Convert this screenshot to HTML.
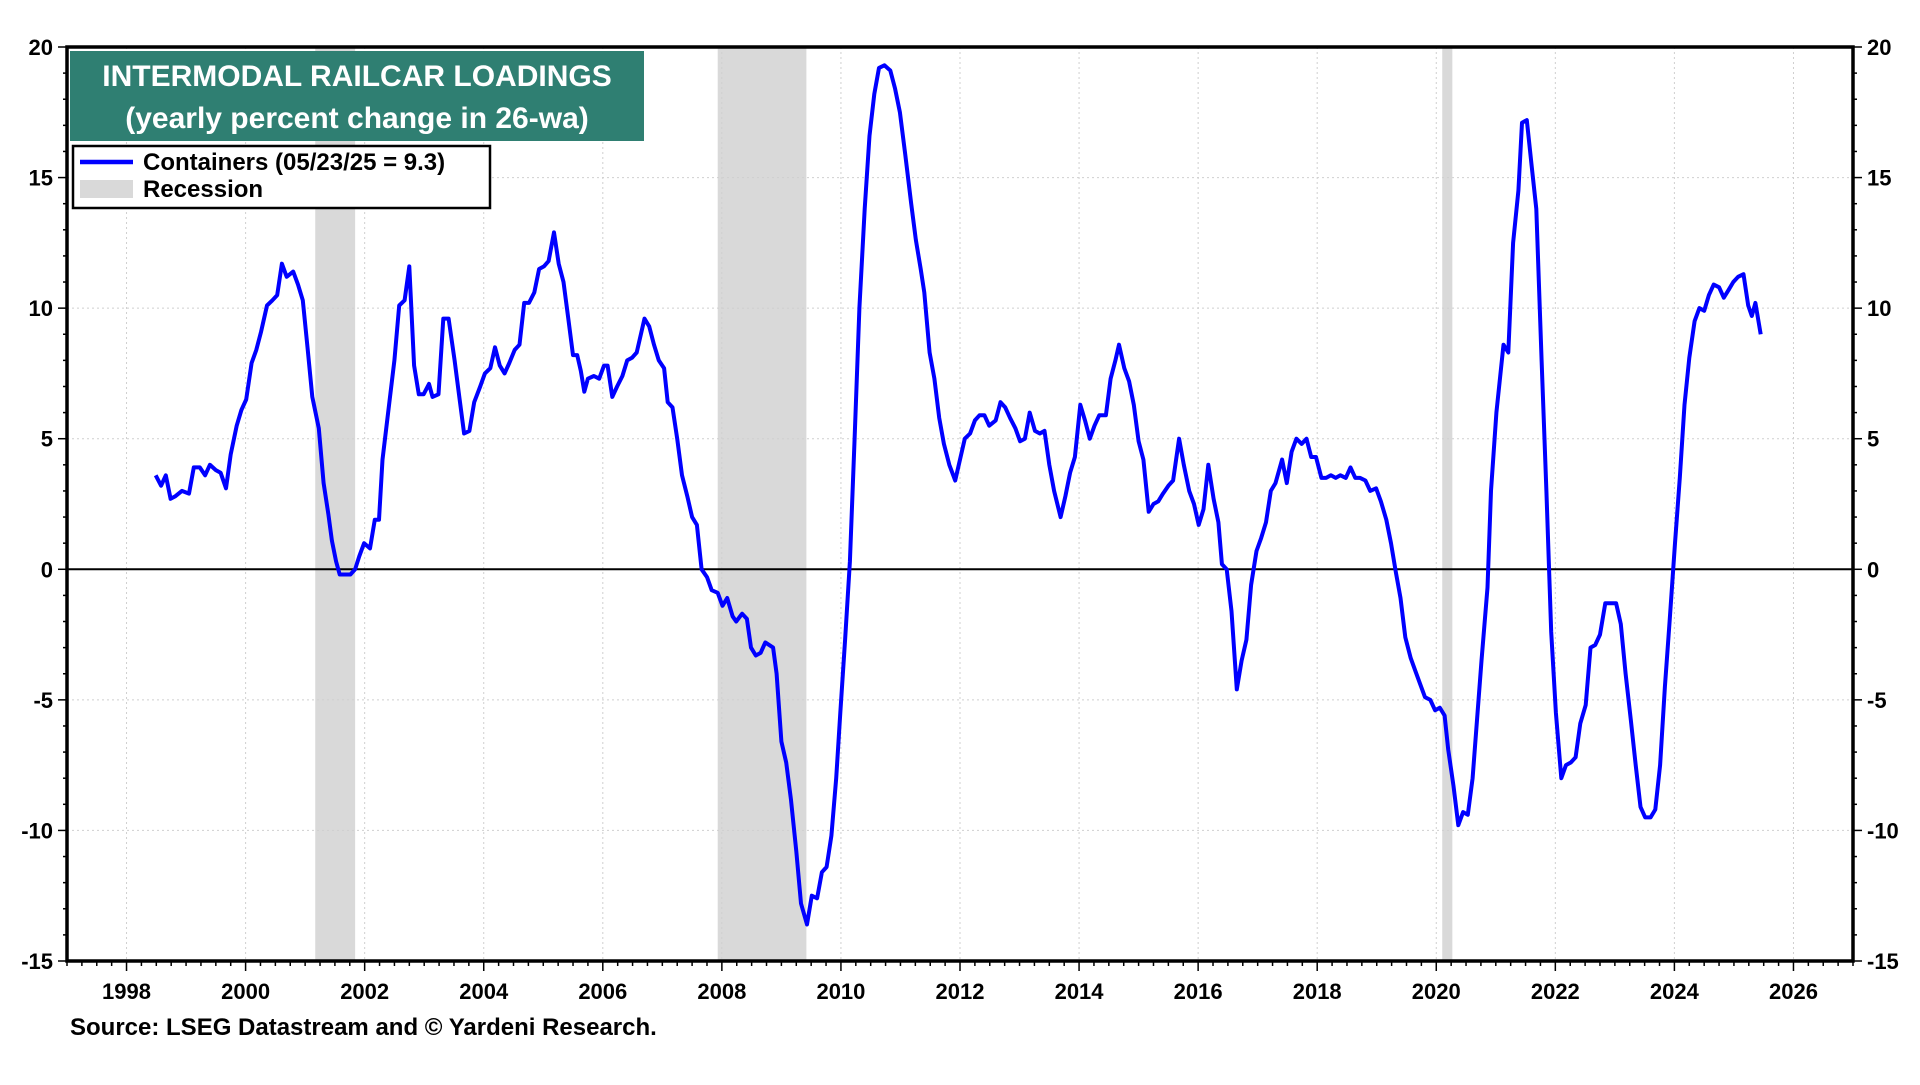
<!DOCTYPE html>
<html><head><meta charset="utf-8">
<style>
html,body{margin:0;padding:0;background:#fff;}
body{width:1920px;height:1080px;overflow:hidden;font-family:"Liberation Sans",Arial,sans-serif;}
svg text{font-family:"Liberation Sans",Arial,sans-serif;font-weight:bold;}
</style></head>
<body>
<svg id="chart" width="1920" height="1080" viewBox="0 0 1920 1080" xmlns="http://www.w3.org/2000/svg"></svg>
<script>
const dates=[1998.49,1998.58,1998.66,1998.74,1998.82,1998.93,1999.05,1999.13,1999.23,1999.32,1999.40,1999.50,1999.58,1999.67,1999.75,1999.85,1999.93,
2000.01,2000.10,2000.18,2000.26,2000.36,2000.45,2000.53,2000.61,2000.69,2000.80,2000.88,2000.96,
2001.04,2001.12,2001.23,2001.31,2001.39,2001.45,2001.52,2001.58,2001.68,2001.76,2001.84,2001.91,2001.99,
2002.09,2002.17,2002.24,2002.30,2002.42,2002.50,2002.58,2002.67,2002.75,2002.83,2002.91,2002.99,
2003.08,2003.14,2003.24,2003.32,2003.41,2003.51,2003.59,2003.67,2003.76,2003.84,2003.94,
2004.02,2004.11,2004.19,2004.27,2004.35,2004.43,2004.52,2004.60,2004.68,2004.76,2004.85,2004.93,
2005.01,2005.09,2005.18,2005.26,2005.34,2005.42,2005.50,2005.57,2005.63,2005.69,2005.75,2005.85,2005.94,
2006.02,2006.08,2006.16,2006.24,2006.33,2006.41,2006.49,2006.57,2006.70,2006.78,2006.86,2006.94,
2007.03,2007.09,2007.17,2007.25,2007.33,2007.42,2007.50,2007.58,2007.66,2007.75,2007.83,2007.93,
2008.01,2008.09,2008.18,2008.24,2008.34,2008.42,2008.49,2008.57,2008.65,2008.73,2008.86,2008.92,
2009.00,2009.08,2009.16,2009.25,2009.33,2009.43,2009.51,2009.60,2009.68,2009.76,2009.84,2009.92,2009.99,
2010.07,2010.15,2010.23,2010.31,2010.40,2010.48,2010.56,2010.64,2010.73,2010.83,2010.91,2010.99,
2011.08,2011.18,2011.26,2011.34,2011.40,2011.49,2011.57,2011.65,2011.73,2011.82,2011.92,
2012.00,2012.08,2012.17,2012.25,2012.33,2012.41,2012.49,2012.60,2012.68,2012.76,2012.84,2012.93,
2013.01,2013.09,2013.17,2013.26,2013.34,2013.42,2013.50,2013.58,2013.69,2013.77,2013.85,2013.93,
2014.02,2014.10,2014.18,2014.26,2014.34,2014.45,2014.53,2014.61,2014.67,2014.76,2014.84,2014.92,
2015.00,2015.08,2015.17,2015.25,2015.33,2015.41,2015.50,2015.58,2015.68,2015.76,2015.85,2015.93,
2016.01,2016.09,2016.17,2016.26,2016.34,2016.40,2016.48,2016.56,2016.65,2016.73,2016.81,2016.89,2016.98,
2017.06,2017.14,2017.22,2017.30,2017.41,2017.49,2017.57,2017.65,2017.74,2017.82,2017.90,2017.98,
2018.07,2018.15,2018.23,2018.31,2018.39,2018.48,2018.56,2018.64,2018.72,2018.81,2018.89,2018.99,
2019.07,2019.16,2019.24,2019.32,2019.40,2019.48,2019.57,2019.65,2019.73,2019.81,2019.90,2019.98,
2020.06,2020.14,2020.20,2020.29,2020.37,2020.45,2020.53,2020.61,2020.76,2020.86,2020.92,
2021.01,2021.13,2021.21,2021.29,2021.38,2021.44,2021.52,2021.60,2021.68,2021.77,2021.85,2021.93,
2022.01,2022.10,2022.18,2022.26,2022.34,2022.42,2022.51,2022.59,2022.67,2022.75,2022.84,2022.92,
2023.02,2023.10,2023.18,2023.27,2023.35,2023.43,2023.51,2023.60,2023.68,2023.76,2023.84,2023.92,
2024.01,2024.09,2024.17,2024.25,2024.34,2024.42,2024.50,2024.58,2024.66,2024.75,2024.83,2024.91,2024.99,
2025.07,2025.16,2025.24,2025.30,2025.36,2025.45];
const containers=[3.6,3.2,3.6,2.7,2.8,3.0,2.9,3.9,3.9,3.6,4.0,3.8,3.7,3.1,4.4,5.5,6.1,
6.5,7.9,8.4,9.1,10.1,10.3,10.5,11.7,11.2,11.4,10.9,10.3,
8.5,6.6,5.4,3.3,2.1,1.1,0.3,-0.2,-0.2,-0.2,0.0,0.5,1.0,
0.8,1.9,1.9,4.2,6.5,8.0,10.1,10.3,11.6,7.8,6.7,6.7,
7.1,6.6,6.7,9.6,9.6,8.0,6.6,5.2,5.3,6.4,7.0,
7.5,7.7,8.5,7.8,7.5,7.9,8.4,8.6,10.2,10.2,10.6,11.5,
11.6,11.8,12.9,11.7,11.0,9.6,8.2,8.2,7.6,6.8,7.3,7.4,7.3,
7.8,7.8,6.6,7.0,7.4,8.0,8.1,8.3,9.6,9.3,8.6,8.0,
7.7,6.4,6.2,5.0,3.6,2.8,2.0,1.7,0.0,-0.3,-0.8,-0.9,
-1.4,-1.1,-1.8,-2.0,-1.7,-1.9,-3.0,-3.3,-3.2,-2.8,-3.0,-4.0,
-6.6,-7.4,-8.8,-10.8,-12.8,-13.6,-12.5,-12.6,-11.6,-11.4,-10.2,-8.0,-5.5,
-2.7,0.3,5.0,10.0,13.8,16.6,18.2,19.2,19.3,19.1,18.4,17.5,
15.9,14.0,12.6,11.5,10.6,8.3,7.3,5.8,4.8,4.0,3.4,
4.2,5.0,5.2,5.7,5.9,5.9,5.5,5.7,6.4,6.2,5.8,5.4,
4.9,5.0,6.0,5.3,5.2,5.3,4.0,3.0,2.0,2.8,3.7,4.3,
6.3,5.7,5.0,5.5,5.9,5.9,7.3,8.0,8.6,7.7,7.2,6.3,
4.9,4.2,2.2,2.5,2.6,2.9,3.2,3.4,5.0,4.0,3.0,2.5,
1.7,2.3,4.0,2.7,1.8,0.2,0.0,-1.6,-4.6,-3.5,-2.7,-0.6,0.7,
1.2,1.8,3.0,3.3,4.2,3.3,4.5,5.0,4.8,5.0,4.3,4.3,
3.5,3.5,3.6,3.5,3.6,3.5,3.9,3.5,3.5,3.4,3.0,3.1,
2.6,1.9,1.0,-0.1,-1.1,-2.6,-3.4,-3.9,-4.4,-4.9,-5.0,-5.4,
-5.3,-5.6,-6.9,-8.3,-9.8,-9.3,-9.4,-8.0,-3.5,-0.7,3.0,
6.0,8.6,8.3,12.5,14.5,17.1,17.2,15.5,13.8,8.0,3.0,-2.4,
-5.5,-8.0,-7.5,-7.4,-7.2,-5.9,-5.2,-3.0,-2.9,-2.5,-1.3,-1.3,
-1.3,-2.1,-4.0,-5.8,-7.5,-9.1,-9.5,-9.5,-9.2,-7.5,-4.5,-2.0,
1.0,3.5,6.3,8.1,9.5,10.0,9.9,10.5,10.9,10.8,10.4,10.7,11.0,
11.2,11.3,10.1,9.7,10.2,9.0];
const recStart=[2001.17,2007.93,2020.10];
const recEnd=[2001.84,2009.42,2020.27];
const yTicks=[20,15,10,5,0,-5,-10,-15];
const xTickLabels=[1998,2000,2002,2004,2006,2008,2010,2012,2014,2016,2018,2020,2022,2024,2026];

const NS="http://www.w3.org/2000/svg";
const svg=document.getElementById('chart');
const L=67,R=1853,T=47,B=961,X0=1997,X1=2027,Y0=-15,Y1=20;
const xs=v=>L+(v-X0)/(X1-X0)*(R-L);
const ys=v=>B-(v-Y0)/(Y1-Y0)*(B-T);
function mk(tag,attrs,parent){const e=document.createElementNS(NS,tag);for(const k in attrs)e.setAttribute(k,attrs[k]);(parent||svg).appendChild(e);return e;}

const gRec=mk('g',{});


for(let i=0;i<recStart.length;i++){
  const r=mk('rect',{x:xs(recStart[i]),y:T,width:xs(recEnd[i])-xs(recStart[i]),height:B-T,fill:'#d9d9d9'},gRec);
  
  
}
const gGrid=mk('g',{stroke:'#cfcfcf','stroke-width':1,'stroke-dasharray':'2,3'});


yTicks.forEach(v=>{if(v!==Y0&&v!==Y1&&v!==0)mk('line',{x1:L,x2:R,y1:ys(v),y2:ys(v)},gGrid);});
xTickLabels.forEach(v=>{mk('line',{x1:xs(v),x2:xs(v),y1:T,y2:B},gGrid);});
const z=mk('line',{x1:L,x2:R,y1:ys(0),y2:ys(0),stroke:'#000','stroke-width':2});


let d='';
for(let i=0;i<dates.length;i++){d+=(i?'L':'M')+xs(dates[i]).toFixed(1)+','+ys(containers[i]).toFixed(1);}
const p=mk('path',{d:d,fill:'none',stroke:'#0000ff','stroke-width':4,'stroke-linejoin':'round'});


const fr=mk('rect',{x:L,y:T,width:R-L,height:B-T,fill:'none',stroke:'#000','stroke-width':3.5});


const gY=mk('g',{});


for(let v=Y0;v<=Y1;v++){
  const maj=v%5===0;
  mk('line',{x1:L-(maj?9:4),x2:L,y1:ys(v),y2:ys(v),stroke:'#000','stroke-width':1.5},gY);
  mk('line',{x1:R,x2:R+(maj?9:4),y1:ys(v),y2:ys(v),stroke:'#000','stroke-width':1.5},gY);
}
yTicks.forEach(v=>{
  const t1=mk('text',{x:L-14,y:ys(v)+8,'text-anchor':'end','font-size':22,fill:'#000'},gY);
  t1.textContent=v;
  
  
  const t2=mk('text',{x:R+14,y:ys(v)+8,'text-anchor':'start','font-size':22,fill:'#000'},gY);
  t2.textContent=v;
  
  
});
const gX=mk('g',{});


for(let q=X0*4;q<=X1*4;q++){
  const v=q/4;const maj=(q%8===0);
  mk('line',{x1:xs(v),x2:xs(v),y1:B,y2:B+(maj?10:5),stroke:'#000','stroke-width':1.5},gX);
}
xTickLabels.forEach(v=>{
  const t=mk('text',{x:xs(v),y:B+38,'text-anchor':'middle','font-size':22,fill:'#000'},gX);
  t.textContent=v;
  
  
});
const gT=mk('g',{});


mk('rect',{x:70,y:51,width:574,height:90,fill:'#2f7f72'},gT);
const t1=mk('text',{x:357,y:86,'text-anchor':'middle','font-size':30,fill:'#fff'},gT);t1.textContent='INTERMODAL RAILCAR LOADINGS';
const t2=mk('text',{x:357,y:128,'text-anchor':'middle','font-size':30,fill:'#fff'},gT);t2.textContent='(yearly percent change in 26-wa)';
const gL=mk('g',{});


mk('rect',{x:73,y:146,width:417,height:62,fill:'#fff',stroke:'#000','stroke-width':2.5},gL);
mk('line',{x1:80,x2:133,y1:162,y2:162,stroke:'#0000ff','stroke-width':4.5},gL);
mk('rect',{x:80,y:180,width:53,height:18,fill:'#d9d9d9'},gL);
const l1=mk('text',{x:143,y:170,'font-size':24,fill:'#000'},gL);l1.textContent='Containers (05/23/25 = 9.3)';


const l2=mk('text',{x:143,y:197,'font-size':24,fill:'#000'},gL);l2.textContent='Recession';


const s=mk('text',{x:70,y:1035,'font-size':24,fill:'#000'});
s.textContent='Source: LSEG Datastream and © Yardeni Research.';


</script>
</body></html>
